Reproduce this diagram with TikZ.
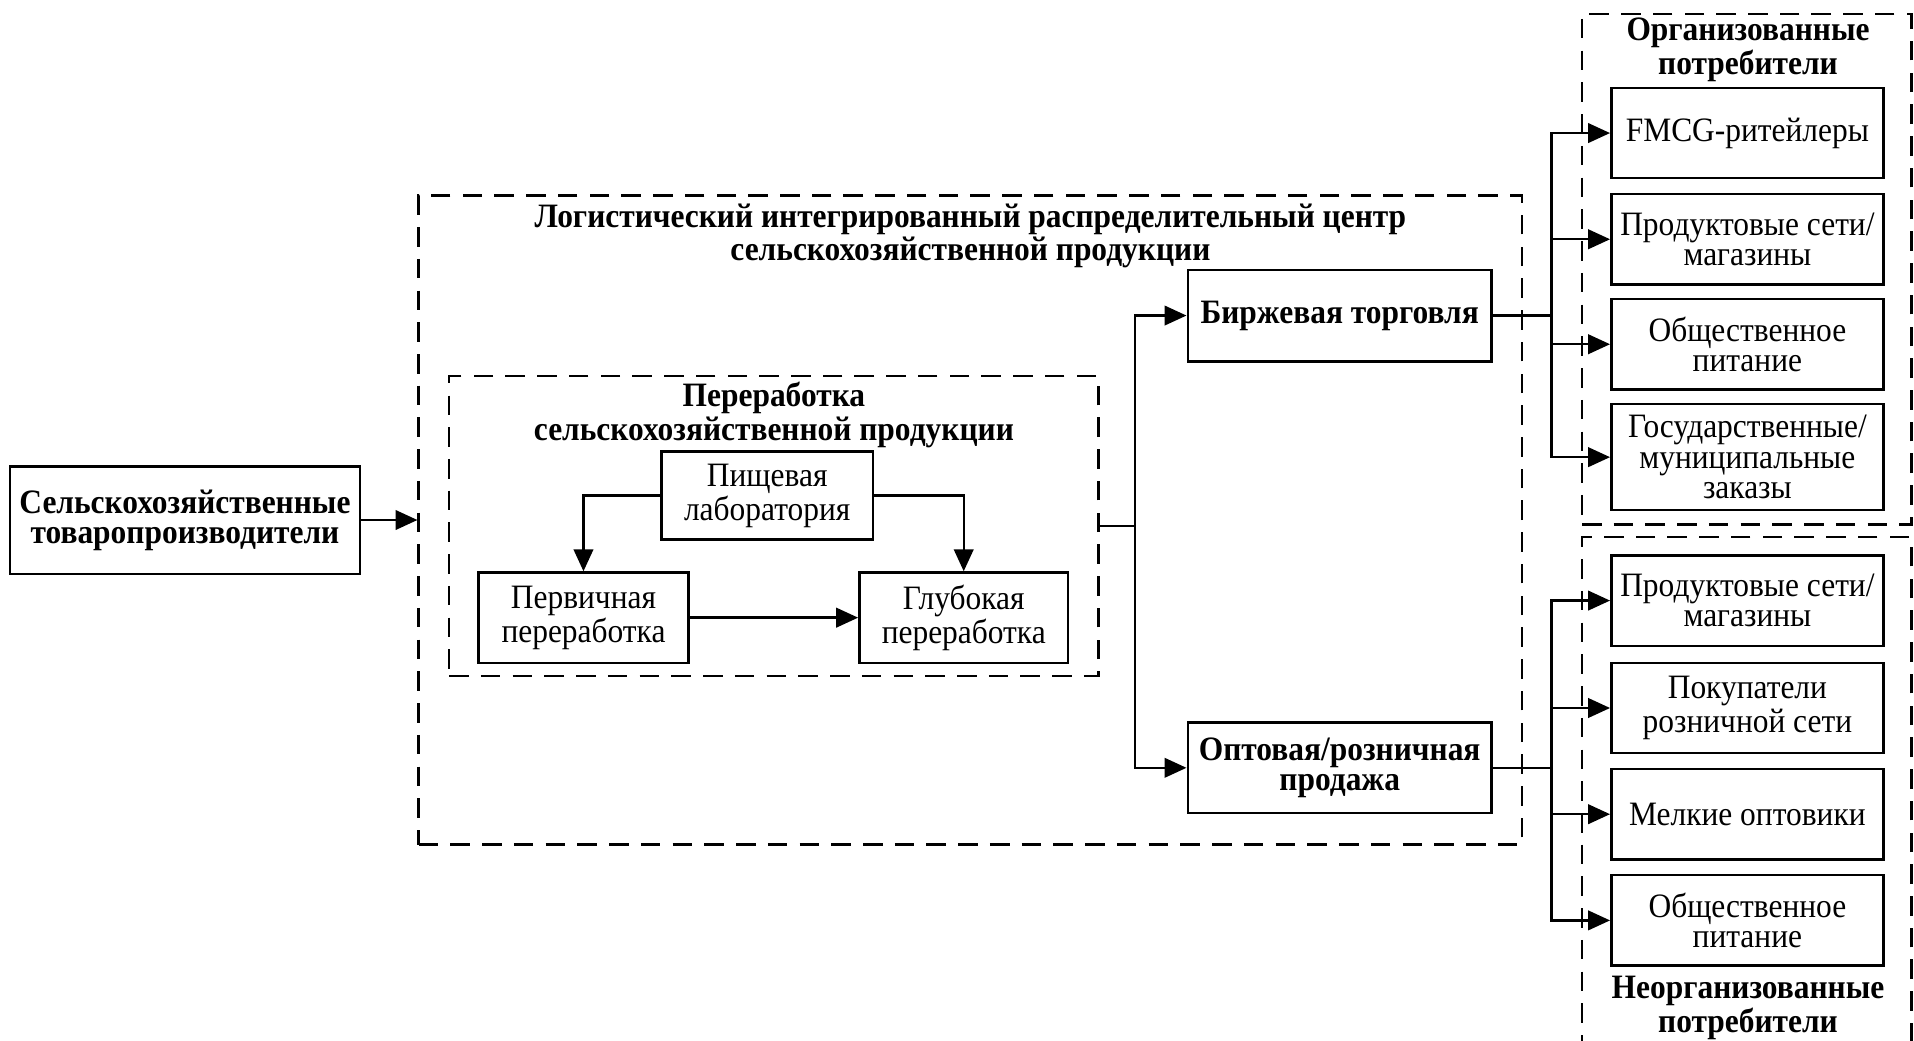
\documentclass[tikz,border=0pt]{standalone}
\usepackage{fontspec}
\setmainfont{Liberation Serif}[FakeStretch=0.92]
\usetikzlibrary{arrows.meta}

\newcommand{\diagfont}{\fontsize{14pt}{12.4pt}\selectfont}

\tikzset{
  box/.style = {draw, line width=1pt, align=center, inner sep=1pt},
  cons/.style = {box, minimum width=111.5pt, minimum height=37pt},
  group/.style = {draw, line width=1pt, dash pattern=on 8pt off 5pt},
  ttl/.style = {align=center, font=\diagfont\bfseries},
  link/.style = {line width=1pt},
  arr/.style = {line width=1pt, -{Triangle[length=9pt,width=8pt]}}
}

\begin{document}
\begin{tikzpicture}[x=.5pt, y=-.5pt, every node/.style={font=\diagfont}]
    \useasboundingbox (0,0) rectangle (1568,852);

    \node [box, minimum width=143.5pt, minimum height=44pt, font=\diagfont\bfseries] (prod) at (151.5,426) {Сельскохозяйственные\\товаропроизводители};

    \node [group, minimum width=452pt, minimum height=266pt] (center) at (795,426) {};
    \node [ttl] (centerttl) at (795,193) {Логистический интегрированный распределительный центр\\сельскохозяйственной продукции};
    \node [group, minimum width=266pt, minimum height=123pt] (proc) at (634,431) {};
    \node [ttl] (procttl) at (634,340) {Переработка\\сельскохозяйственной продукции};
    \node [box, minimum width=86.5pt, minimum height=36pt] (lab) at (628.5,406) {Пищевая\\лаборатория};
    \node [box, minimum width=86pt, minimum height=37pt] (prim) at (478,506) {Первичная\\переработка};
    \node [box, minimum width=85.5pt, minimum height=37pt] (deep) at (789.5,506) {Глубокая\\переработка};
    \node [box, minimum width=124.5pt, minimum height=37.5pt, font=\diagfont\bfseries] (exch) at (1097.5,258.5) {Биржевая торговля};
    \node [box, minimum width=124.5pt, minimum height=37pt, font=\diagfont\bfseries] (sale) at (1097.5,629) {Оптовая/розничная\\продажа};

    \node [group, minimum width=135pt, minimum height=209pt] (org) at (1431,220.5) {};
    \node [ttl] (orgttl) at (1432,41) {Организованные\\потребители};
    \node [cons] (fmcg) at (1431.5,109) {FMCG-ритейлеры};
    \node [cons] (shops) at (1431.5,196) {Продуктовые сети/\\магазины};
    \node [cons] (food) at (1431.5,282) {Общественное\\питание};
    \node [cons, minimum height=43.5pt] (gov) at (1431.5,374.5) {Государственные/\\муниципальные\\заказы};

    \node [group, minimum width=135pt, minimum height=215pt] (unorg) at (1431,655) {};
    \node [ttl] (unorgttl) at (1432,826) {Неорганизованные\\потребители};
    \node [cons] (shopsb) at (1431.5,492) {Продуктовые сети/\\магазины};
    \node [cons] (buyers) at (1431.5,580) {Покупатели\\розничной сети};
    \node [cons] (whole) at (1431.5,667) {Мелкие оптовики};
    \node [cons] (foodb) at (1431.5,754) {Общественное\\питание};

    \draw [arr] (prod.east) -- (center.west);
    \draw [arr] (lab.west) -| (prim.north);
    \draw [arr] (lab.east) -| (deep.north);
    \draw [arr] (prim) -- (deep);

    \coordinate (split) at (930,431);
    \draw [link] (proc.east) -- (split);
    \draw [arr] (split) |- (exch.west);
    \draw [arr] (split) |- (sale.west);

    \coordinate (splitup) at (1271,258.5);
    \draw [link] (exch) -- (splitup);
    \foreach \n in {fmcg, shops, food, gov}
      \draw [arr] (splitup) |- (\n.west);

    \coordinate (splitdown) at (1271,629);
    \draw [link] (sale) -- (splitdown);
    \foreach \n in {shopsb, buyers, whole, foodb}
      \draw [arr] (splitdown) |- (\n.west);
\end{tikzpicture}
\end{document}
